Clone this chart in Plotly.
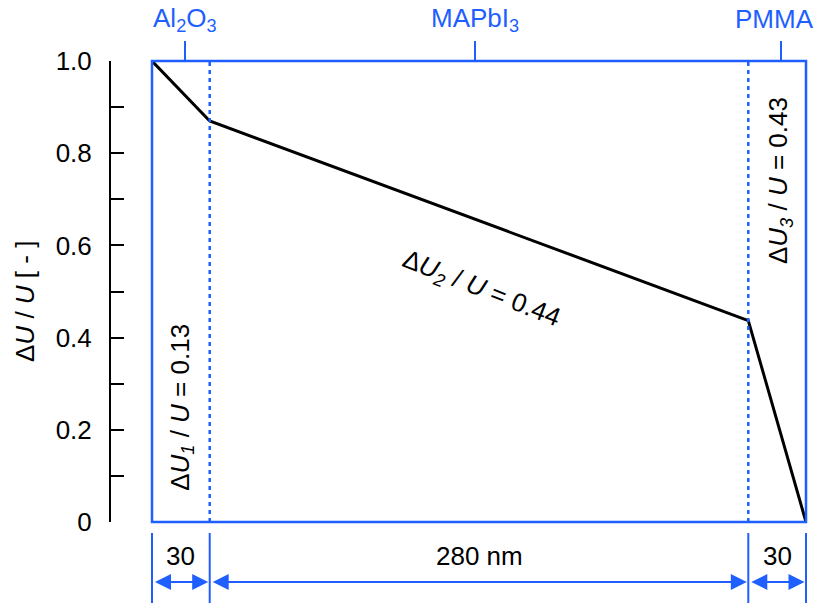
import plotly.graph_objects as go

# ---- data ----
layer_names = ["Al<sub>2</sub>O<sub>3</sub>", "MAPbI<sub>3</sub>", "PMMA"]
layer_tick_pos = [17, 168, 327]
layer_thickness = [30, 280, 30]
thickness_labels = ["30", "280 nm", "30"]
profile_x = [0, 30, 310, 340]
profile_y = [1.0, 0.87, 0.437, 0.0]
drop_labels = ["Δ<i>U<sub>1</sub></i> / <i>U</i> = 0.13",
               "Δ<i>U<sub>2</sub></i> / <i>U</i> = 0.44",
               "Δ<i>U<sub>3</sub></i> / <i>U</i> = 0.43"]
y_tickvals = [0, 0.2, 0.4, 0.6, 0.8, 1.0]
y_ticktext = ["0", "0.2", "0.4", "0.6", "0.8", "1.0"]
y_minor_vals = [0.1, 0.3, 0.5, 0.7, 0.9]

BLUE = "#1f5fff"
FONT = "Liberation Sans, Arial, Helvetica, sans-serif"
FS = 26

W, H = 817, 603
ML, MR, MT, MB = 0, 11, 61, 81
PW = W - ML - MR
PH = H - MT - MB

def px_x(p):
    return (p - ML) / PW

def py_y(p):
    return (H - MB - p) / PH

boundaries = [0]
for t in layer_thickness:
    boundaries.append(boundaries[-1] + t)
xmax = boundaries[-1]

fig = go.Figure()
fig.add_trace(go.Scatter(x=profile_x, y=profile_y, mode="lines",
                         line=dict(color="black", width=3), showlegend=False,
                         hoverinfo="skip"))
# invisible trace on top axis
fig.add_trace(go.Scatter(x=[0, xmax], y=[0, 0], xaxis="x2", mode="lines",
                         line=dict(width=0), showlegend=False, hoverinfo="skip"))

shapes = []
# inner boundaries (dotted)
for b in boundaries[1:-1]:
    shapes.append(dict(type="line", xref="x", yref="y domain", x0=b, x1=b, y0=0, y1=1,
                       line=dict(color=BLUE, width=2.5, dash="4px,4px"), layer="above"))
# frame
shapes.append(dict(type="rect", xref="x domain", yref="y domain", x0=0, x1=1, y0=0, y1=1,
                   line=dict(color=BLUE, width=2.5), layer="above"))
# extension lines below
for b in boundaries:
    shapes.append(dict(type="line", xref="x domain", yref="paper", x0=b / xmax, x1=b / xmax,
                       y0=py_y(533), y1=py_y(603),
                       line=dict(color=BLUE, width=2)))

annotations = []
# top layer labels
label_shift = [0, 0, -6]
for name, pos, sh in zip(layer_names, layer_tick_pos, label_shift):
    annotations.append(dict(x=pos, y=py_y(19), xref="x", yref="paper",
                            xanchor="center", yanchor="middle", xshift=sh,
                            text=name, showarrow=False,
                            font=dict(size=FS, color=BLUE, family=FONT)))

arrow_y = py_y(582)
text_y = py_y(556)
for i, t in enumerate(layer_thickness):
    x0, x1 = boundaries[i], boundaries[i + 1]
    annotations.append(dict(x=x1, y=arrow_y, xref="x", yref="paper",
                            ax=x0, ay=0, axref="x", ayref="pixel",
                            showarrow=True, arrowhead=2, arrowside="end+start",
                            arrowsize=1.6, arrowwidth=2, arrowcolor=BLUE,
                            standoff=1.5, startstandoff=1.5, text=""))
    annotations.append(dict(x=(x0 + x1) / 2, y=text_y, xref="x", yref="paper",
                            xanchor="center", yanchor="middle",
                            text=thickness_labels[i], showarrow=False,
                            font=dict(size=FS, color="black", family=FONT)))

annotations.append(dict(x=15, y=py_y(407), xref="x", yref="paper",
                        xanchor="center", yanchor="middle",
                        text=drop_labels[0], textangle=-90, showarrow=False,
                        font=dict(size=FS, color="black", family=FONT)))
annotations.append(dict(x=171.5, y=py_y(289), xref="x", yref="paper",
                        xanchor="center", yanchor="middle",
                        text=drop_labels[1], textangle=21.5, showarrow=False,
                        font=dict(size=FS, color="black", family=FONT)))
annotations.append(dict(x=326, y=py_y(181), xref="x", yref="paper",
                        xanchor="center", yanchor="middle",
                        text=drop_labels[2], textangle=-90, showarrow=False,
                        font=dict(size=FS, color="black", family=FONT)))
annotations.append(dict(x=px_x(25), y=py_y(302), xref="paper", yref="paper",
                        xanchor="center", yanchor="middle",
                        text="Δ<i>U</i> / <i>U</i> [ - ]", textangle=-90, showarrow=False,
                        font=dict(size=FS, color="black", family=FONT)))

fig.update_layout(
    width=W, height=H,
    margin=dict(l=ML, r=MR, t=MT, b=MB, autoexpand=False),
    paper_bgcolor="white", plot_bgcolor="white",
    font=dict(family=FONT, size=FS, color="black"),
    xaxis=dict(domain=[px_x(152), 1], range=[0, xmax], showgrid=False,
               zeroline=False, showticklabels=False, ticks="", showline=False),
    xaxis2=dict(overlaying="x", side="top", range=[0, xmax], showgrid=False,
                zeroline=False, tickvals=layer_tick_pos, showticklabels=False,
                ticks="outside", ticklen=19, tickwidth=2, tickcolor=BLUE,
                showline=False, anchor="y"),
    yaxis=dict(range=[0, 1], anchor="free", position=px_x(110), showgrid=False,
               zeroline=False, tickvals=y_tickvals, ticktext=y_ticktext,
               ticks="inside", ticklen=13, tickwidth=2, tickcolor="black",
               minor=dict(tickmode="array", tickvals=y_minor_vals, ticks="inside",
                          ticklen=13, tickwidth=2, tickcolor="black", showgrid=False),
               showline=True, linecolor="black", linewidth=2,
               ticklabelstandoff=12,
               tickfont=dict(size=FS, color="black", family=FONT)),
    shapes=shapes, annotations=annotations,
)

fig.write_html("out.html")
